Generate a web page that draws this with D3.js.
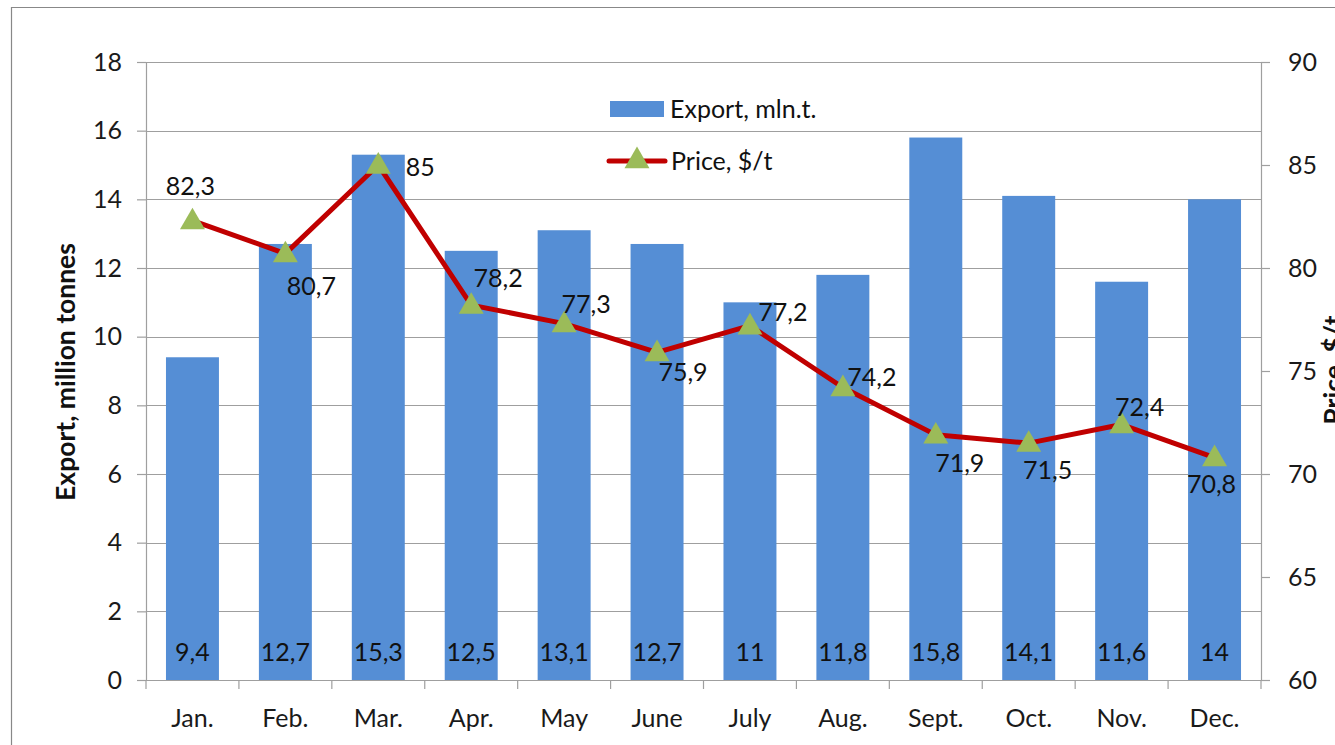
<!DOCTYPE html>
<html><head><meta charset="utf-8">
<script src="https://cdn.jsdelivr.net/npm/d3@7"></script>
<style>
html,body{margin:0;padding:0;background:#fff;}
svg{display:block;font-family:Lato,"Open Sans",sans-serif;}
</style></head>
<body><svg id="c" width="1335" height="745"></svg>
<script>
const months = ["Jan.","Feb.","Mar.","Apr.","May","June","July","Aug.","Sept.","Oct.","Nov.","Dec."];
const exportVals = [9.4,12.7,15.3,12.5,13.1,12.7,11,11.8,15.8,14.1,11.6,14];
const priceVals = [82.3,80.7,85,78.2,77.3,75.9,77.2,74.2,71.9,71.5,72.4,70.8];
const leftTicks = [0,2,4,6,8,10,12,14,16,18];
const rightTicks = [60,65,70,75,80,85,90];
// label placement offsets (dx, dy) for price labels relative to marker
const priceLabelOffsets = [[-2,-34],[26,33],[42,2],[27,-27],[22,-19],[26,20],[33,-13],[29,-10],[24,28],[19,27],[18,-17],[-3,27]];

const FS = "25px";
const fmt = v => String(v).replace(".", ",");
const svg = d3.select("#c");
const L = 146, R = 1261, T = 62, B = 680;
const x = d3.scaleBand().domain(months).range([L, R]).paddingInner(0.43).paddingOuter(0.215);
const xb = d3.scaleBand().domain(months).range([L, R]);
const yL = d3.scaleLinear().domain([0,18]).range([B,T]);
const yR = d3.scaleLinear().domain([60,90]).range([B,T]);
const grid = "#9f9f9f";

// outer frame
svg.append("path").attr("d","M11.5,745 V7.5 H1335").attr("fill","none").attr("stroke","#888").attr("stroke-width",1.2);

// gridlines
svg.append("g").selectAll("line").data(leftTicks.slice(1)).join("line")
  .attr("x1",L).attr("x2",R).attr("y1",d=>Math.round(yL(d))+0.5).attr("y2",d=>Math.round(yL(d))+0.5)
  .attr("stroke",grid).attr("stroke-width",1.2);

// bars
svg.append("g").selectAll("rect").data(exportVals).join("rect")
  .attr("x",(d,i)=>x(months[i])).attr("width",x.bandwidth())
  .attr("y",d=>yL(d)).attr("height",d=>B-yL(d)).attr("fill","#558ed5");

// left axis
const gl = svg.append("g").attr("transform",`translate(${L},0)`)
  .call(d3.axisLeft(yL).tickValues(leftTicks).tickSize(9).tickPadding(15));
// right axis
const gr = svg.append("g").attr("transform",`translate(${R},0)`)
  .call(d3.axisRight(yR).tickValues(rightTicks).tickSize(9).tickPadding(18));
// bottom axis
const gb = svg.append("g").attr("transform",`translate(0,${B})`)
  .call(d3.axisBottom(xb).tickSize(0).tickPadding(29));
gb.selectAll(".tick line").remove();
svg.append("g").selectAll("line").data(months.concat(["end"])).join("line")
  .attr("x1",(d,i)=>i<12?xb(d):R).attr("x2",(d,i)=>i<12?xb(d):R)
  .attr("y1",B).attr("y2",B+9).attr("stroke",grid).attr("stroke-width",1.2);

[gl,gr,gb].forEach(g=>{
  g.select(".domain").attr("stroke",grid).attr("stroke-width",1.2);
  g.selectAll(".tick line").attr("stroke",grid).attr("stroke-width",1.2);
  g.selectAll(".tick text").attr("fill","#1a1a1a").style("font-size",FS).style("font-family","Lato,'Open Sans',sans-serif");
});
gb.select(".domain").attr("d",`M${L},0.5H${R}`);
gl.select(".domain").attr("d","M0.5,"+B+"V"+T);
gr.select(".domain").attr("d","M0.5,"+B+"V"+T);

// bar value labels
svg.append("g").selectAll("text").data(exportVals).join("text")
  .attr("x",(d,i)=>x(months[i])+x.bandwidth()/2).attr("y",652).attr("dy","0.35em")
  .attr("text-anchor","middle").style("font-size",FS).attr("fill","#111")
  .text(d=>fmt(d));

// price line
const cx = i => xb(months[i]) + xb.bandwidth()/2;
svg.append("path").datum(priceVals)
  .attr("d", d3.line().x((d,i)=>cx(i)).y(d=>yR(d)))
  .attr("fill","none").attr("stroke","#c00000").attr("stroke-width",5).attr("stroke-linejoin","round");
const tri = d3.symbol().type(d3.symbolTriangle).size(270);
svg.append("g").selectAll("path").data(priceVals).join("path")
  .attr("d",tri).attr("transform",(d,i)=>`translate(${cx(i)},${yR(d)+1.5})`).attr("fill","#9bbb59");

// price labels
svg.append("g").selectAll("text").data(priceVals).join("text")
  .attr("x",(d,i)=>cx(i)+priceLabelOffsets[i][0]).attr("y",(d,i)=>yR(d)+priceLabelOffsets[i][1])
  .attr("dy","0.35em").attr("text-anchor","middle").style("font-size",FS).attr("fill","#111")
  .text(d=>fmt(d));

// axis titles
svg.append("text").attr("transform","translate(75,372) rotate(-90)").attr("text-anchor","middle")
  .style("font-size","26.5px").style("font-weight","bold").attr("fill","#111").text("Export, million tonnes");
svg.append("text").attr("transform","translate(1343,370) rotate(-90)").attr("text-anchor","middle")
  .style("font-size","26.5px").style("font-weight","bold").attr("fill","#111").text("Price, $/t");

// legend
const lg = svg.append("g");
lg.append("rect").attr("x",610).attr("y",101).attr("width",54).attr("height",16).attr("fill","#558ed5");
lg.append("text").attr("x",670).attr("y",109).attr("dy","0.35em").style("font-size",FS).attr("fill","#111").text("Export, mln.t.");
lg.append("line").attr("x1",609).attr("x2",665).attr("y1",161).attr("y2",161).attr("stroke","#c00000").attr("stroke-width",5).attr("stroke-linecap","round");
lg.append("path").attr("d",tri).attr("transform","translate(637,161)").attr("fill","#9bbb59");
lg.append("text").attr("x",671).attr("y",161).attr("dy","0.35em").style("font-size",FS).attr("fill","#111").text("Price, $/t");
</script></body></html>
